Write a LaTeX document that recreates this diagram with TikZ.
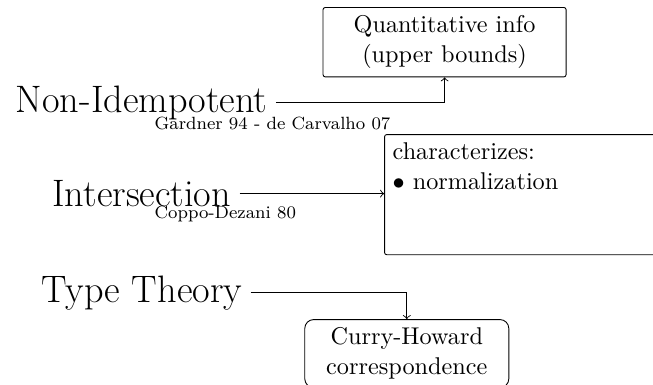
\documentclass[11pt,tikz,border=0pt]{standalone}
\tikzset{
  topic/.style={font=\LARGE},
  cite/.style={font=\scriptsize,anchor=base west},
  info/.style={draw,rounded corners=#1,align=center},
  info/.default=1pt,
  flow/.style={->},
}
\begin{document}
\begin{tikzpicture}
  \useasboundingbox (0,0) rectangle (10.37,6.10);
  % boxes on the right
  \node[info,minimum width=3.86cm] (quant) at (7.06,5.43) {Quantitative info\\(upper bounds)};
  \node[info,anchor=north west] (charbox) at (6.10,3.97)
    {\parbox[t][47pt][t]{150pt}{characterizes:\\$\bullet$ normalization}};
  \node[info=4pt,minimum width=3.24cm,anchor=north] (curry) at (6.46,1.032) {Curry-Howard\\correspondence};
  % the three type systems
  \node[topic] (noni) at (2.25,4.47) {Non-Idempotent};
  \node[cite] (gard) at (2.32,4.05) {Gardner 94 - de Carvalho 07};
  \node[topic] (inter) at (2.25,3.025) {Intersection};
  \node[cite] (coppo) at (2.32,2.636) {Coppo-Dezani 80};
  \node[topic] (typ) at (2.25,1.453) {Type Theory};
  \draw[flow] (noni) -| (quant);
  \draw[flow] (inter) -- (inter -| charbox.west);
  \draw[flow] (typ) -| (curry);
\end{tikzpicture}
\end{document}
